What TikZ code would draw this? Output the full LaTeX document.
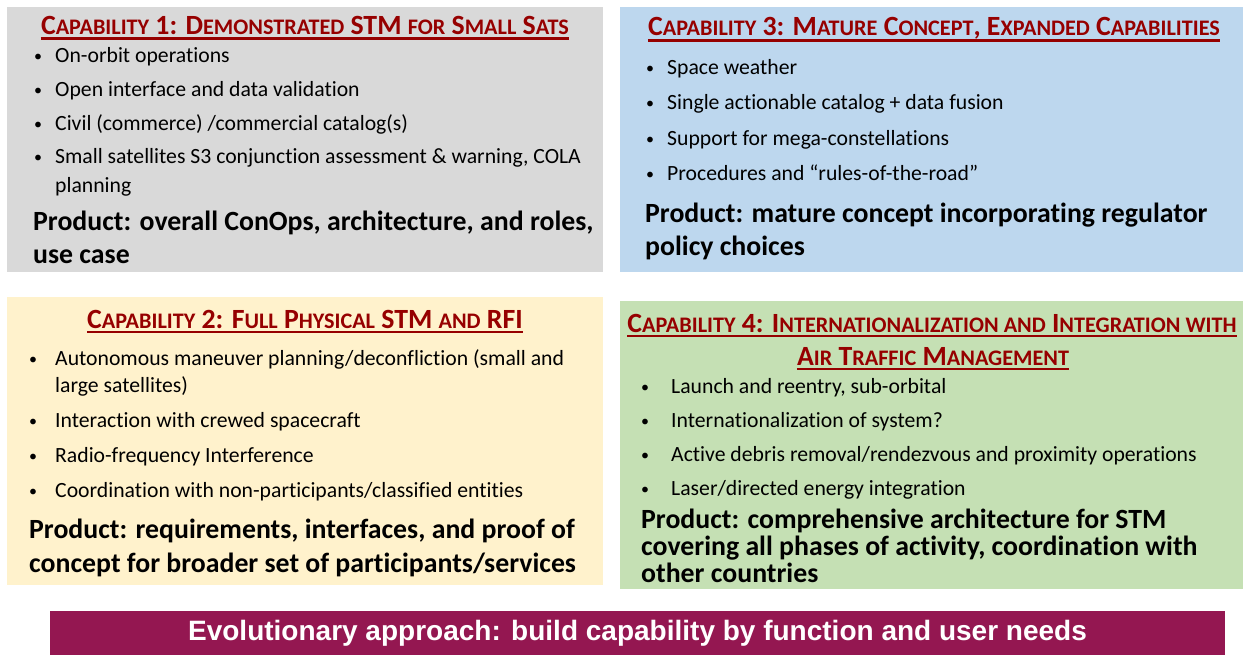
\documentclass[tikz,border=0pt]{standalone}
\usepackage{fontspec}
\setmainfont{Carlito}[Ligatures=NoCommon]
\newfontfamily\bannerfont{Liberation Sans}
\definecolor{boxgray}{RGB}{217,217,217}
\definecolor{boxblue}{RGB}{189,215,238}
\definecolor{boxyellow}{RGB}{255,242,204}
\definecolor{boxgreen}{RGB}{197,224,180}
\definecolor{titlered}{RGB}{150,0,0}
\definecolor{bannerplum}{RGB}{148,23,81}
\newcommand\smc[1]{{\fontsize{22.2}{26}\selectfont #1}}
\tikzset{
  panel/.style={draw=none, inner sep=0},
  ttl/.style={anchor=base, inner sep=0, text=titlered, font=\fontsize{27.8}{32}\selectfont\bfseries},
  uline/.style={titlered, line width=2.2pt},
  bul/.style={anchor=base west, inner sep=0, yshift=1pt, font=\fontsize{16}{20}\selectfont},
  itm/.style={anchor=base west, inner sep=0, align=left, font=\fontsize{21.7}{29}\selectfont},
  prod/.style={anchor=base west, inner sep=0, align=left, font=\fontsize{27.8}{33}\selectfont\bfseries},
}
\begin{document}
\begin{tikzpicture}[x=1pt,y=-1pt]
\useasboundingbox (0,0) rectangle (1244,655);
% panels
\fill[boxgray]   (7,7)   rectangle (603,272);
\fill[boxblue]   (620,7) rectangle (1243,272);
\fill[boxyellow] (7,297) rectangle (603,585);
\fill[boxgreen]  (620,301) rectangle (1243,589);
\node[panel, fill=bannerplum, minimum width=1175pt, minimum height=44pt, text=white,
  font=\bannerfont\fontsize{28}{32}\selectfont\bfseries] (banner) at (637.5,633)
  {Evolutionary approach: build capability by function and user needs};

% ---- Capability 1
\node[ttl] (t1) at (305,35) {C\smc{APABILITY} 1: D\smc{EMONSTRATED} STM \smc{FOR} S\smc{MALL} S\smc{ATS}};
\draw[uline] ([yshift=-3.5pt]t1.base west) -- ([yshift=-3.5pt]t1.base east);
\node[bul] (b11) at (34,63) {•};
\node[itm] (i11) at (55,63) {On-orbit operations};
\node[bul] (b12) at (34,97) {•};
\node[itm] (i12) at (55,97) {Open interface and data validation};
\node[bul] (b13) at (34,131) {•};
\node[itm] (i13) at (55,131) {Civil (commerce) /commercial catalog(s)};
\node[bul] (b14) at (34,164) {•};
\node[itm] (i14) at (55,193) {Small satellites S3 conjunction assessment \& warning, COLA\\planning};
\node[prod] (p1) at (33,263) {Product: overall ConOps, architecture, and roles,\\use case};

% ---- Capability 3
\node[ttl] (t3) at (934,36) {C\smc{APABILITY} 3: M\smc{ATURE} C\smc{ONCEPT}, E\smc{XPANDED} C\smc{APABILITIES}};
\draw[uline] ([yshift=-4.5pt]t3.base west) -- ([yshift=-4.5pt]t3.base east);
\node[bul] (b31) at (646,75) {•};
\node[itm] (i31) at (667,75) {Space weather};
\node[bul] (b32) at (646,110) {•};
\node[itm] (i32) at (667,110) {Single actionable catalog + data fusion};
\node[bul] (b33) at (646,146) {•};
\node[itm] (i33) at (667,146) {Support for mega-constellations};
\node[bul] (b34) at (646,181) {•};
\node[itm] (i34) at (667,181) {Procedures and “rules-of-the-road”};
\node[prod] (p3) at (645,255) {Product: mature concept incorporating regulator\\policy choices};

% ---- Capability 2
\node[ttl] (t2) at (305,328) {C\smc{APABILITY} 2: F\smc{ULL} P\smc{HYSICAL} STM \smc{AND} RFI};
\draw[uline] ([yshift=-4pt]t2.base west) -- ([yshift=-4pt]t2.base east);
\node[bul] (b21) at (29,365) {•};
\node[itm, font=\fontsize{21.7}{27}\selectfont] (i21) at (55,392) {Autonomous maneuver planning/deconfliction (small and\\large satellites)};
\node[bul] (b22) at (29,427) {•};
\node[itm] (i22) at (55,427) {Interaction with crewed spacecraft};
\node[bul] (b23) at (29,462) {•};
\node[itm] (i23) at (55,462) {Radio-frequency Interference};
\node[bul] (b24) at (29,497) {•};
\node[itm] (i24) at (55,497) {Coordination with non-participants/classified entities};
\node[prod, font=\fontsize{27.8}{34}\selectfont\bfseries] (p2) at (29,572) {Product: requirements, interfaces, and proof of\\concept for broader set of participants/services};

% ---- Capability 4
\node[ttl] (t4a) at (932,332) {C\smc{APABILITY} 4: I\smc{NTERNATIONALIZATION AND} I\smc{NTEGRATION WITH}};
\draw[uline] ([yshift=-4pt]t4a.base west) -- ([yshift=-4pt]t4a.base east);
\node[ttl] (t4b) at (933,365) {A\smc{IR} T\smc{RAFFIC} M\smc{ANAGEMENT}};
\draw[uline] ([yshift=-4pt]t4b.base west) -- ([yshift=-4pt]t4b.base east);
\node[bul] (b41) at (641,393) {•};
\node[itm] (i41) at (671,393) {Launch and reentry, sub-orbital};
\node[bul] (b42) at (641,427) {•};
\node[itm] (i42) at (671,427) {Internationalization of system?};
\node[bul] (b43) at (641,461) {•};
\node[itm] (i43) at (671,461) {Active debris removal/rendezvous and proximity operations};
\node[bul] (b44) at (641,495) {•};
\node[itm] (i44) at (671,495) {Laser/directed energy integration};
\node[prod, font=\fontsize{27.8}{27}\selectfont\bfseries] (p4) at (641,582) {Product: comprehensive architecture for STM\\covering all phases of activity, coordination with\\other countries};
\end{tikzpicture}
\end{document}
